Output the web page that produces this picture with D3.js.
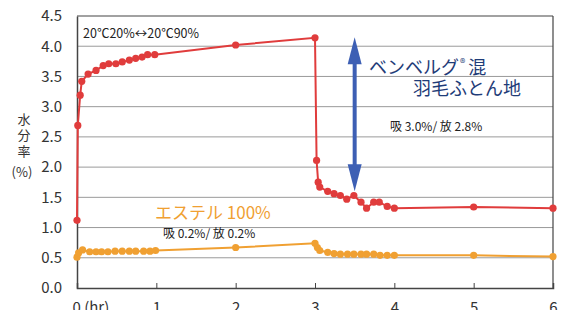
<!DOCTYPE html>
<html lang="ja">
<head>
<meta charset="UTF-8" />
<title>水分率</title>
<script src="https://d3js.org/d3.v7.min.js"></script>
<style>
  body { margin: 0; background: #fff; }
  svg text { font-family: "Noto Sans CJK JP", "Noto Sans", sans-serif; }
</style>
</head>
<body>
<div id="chart"></div>
<script>
// 時間 (hr) と水分率 (%)
const redHours = [0, 0.01, 0.04, 0.06, 0.14, 0.24, 0.33, 0.40, 0.49, 0.57, 0.66, 0.74, 0.82, 0.89, 0.98,
  2, 3, 3.02, 3.04, 3.06, 3.16, 3.24, 3.32, 3.40, 3.49, 3.58, 3.65, 3.74, 3.81, 3.91, 4, 5, 6];
const redValues = [1.12, 2.69, 3.19, 3.42, 3.54, 3.60, 3.68, 3.71, 3.71, 3.74, 3.77, 3.80, 3.82, 3.86, 3.86,
  4.02, 4.14, 2.11, 1.75, 1.67, 1.60, 1.56, 1.53, 1.47, 1.53, 1.42, 1.32, 1.42, 1.42, 1.35, 1.32, 1.34, 1.32];

const orangeHours = [0, 0.02, 0.07, 0.16, 0.24, 0.31, 0.39, 0.48, 0.57, 0.66, 0.74, 0.84, 0.92, 0.99,
  2, 3, 3.03, 3.06, 3.16, 3.24, 3.32, 3.41, 3.49, 3.58, 3.65, 3.74, 3.82, 3.91, 4, 5, 6];
const orangeValues = [0.51, 0.58, 0.63, 0.60, 0.60, 0.60, 0.60, 0.61, 0.61, 0.61, 0.61, 0.61, 0.61, 0.62,
  0.67, 0.74, 0.67, 0.62, 0.59, 0.57, 0.56, 0.56, 0.56, 0.56, 0.56, 0.56, 0.54, 0.54, 0.54, 0.54, 0.52];

const yTicks = [0, 0.5, 1, 1.5, 2, 2.5, 3, 3.5, 4, 4.5];
const xTicks = [0, 1, 2, 3, 4, 5, 6];

const width = 565, height = 310;
const svg = d3.select("#chart").append("svg")
  .attr("width", width).attr("height", height);

const x = d3.scaleLinear().domain([0, 6]).range([77, 553]);
const y = d3.scaleLinear().domain([0, 4.5]).range([288, 16]);

// グリッド
svg.append("g").selectAll("line")
  .data(yTicks.filter(d => d > 0 && d < 4.5))
  .join("line")
  .attr("x1", x(0)).attr("x2", x(6))
  .attr("y1", d => y(d)).attr("y2", d => y(d))
  .attr("stroke", "#9a9a9a").attr("stroke-width", 1);

// 枠
svg.append("line").attr("x1", x(0)).attr("x2", x(6)).attr("y1", y(4.5)).attr("y2", y(4.5))
  .attr("stroke", "#444").attr("stroke-width", 1.2);
svg.append("line").attr("x1", x(6)).attr("x2", x(6)).attr("y1", y(4.5)).attr("y2", y(0))
  .attr("stroke", "#444").attr("stroke-width", 1.2);

// 軸
const yAxis = svg.append("g")
  .attr("transform", `translate(${x(0)},0)`)
  .call(d3.axisLeft(y).tickValues(yTicks).tickFormat(d3.format(".1f")).tickSize(0).tickPadding(15));
yAxis.select(".domain").attr("stroke", "#444").attr("stroke-width", 1.5);
yAxis.selectAll("text").attr("font-size", 15).attr("fill", "#333");

const xAxis = svg.append("g")
  .attr("transform", `translate(0,${y(0)})`)
  .call(d3.axisBottom(x).tickValues(xTicks).tickSize(-5).tickPadding(14)
    .tickFormat(d => d === 0 ? "0  (hr)" : d));
xAxis.select(".domain").attr("stroke", "#444").attr("stroke-width", 1.5);
xAxis.selectAll(".tick line").attr("stroke", "#444");
xAxis.selectAll("text").attr("font-size", 15).attr("fill", "#333");
xAxis.selectAll(".tick").filter(d => d === 0).select("text")
  .attr("text-anchor", "start").attr("x", -5);

// 軸ラベル
const ylab = svg.append("g").attr("fill", "#333").attr("font-size", 13).attr("text-anchor", "middle");
["水", "分", "率"].forEach((c, i) => ylab.append("text").attr("x", 24).attr("y", 124 + i * 16).text(c));
ylab.append("text").attr("x", 22).attr("y", 177).attr("font-size", 13).text("(%)");

// 系列
const series = [
  { hours: redHours, values: redValues, color: "#e03c3c" },
  { hours: orangeHours, values: orangeValues, color: "#f0a032" }
];
const line = d3.line().x(d => x(d[0])).y(d => y(d[1]));
series.forEach(s => {
  const pts = s.hours.map((h, i) => [h, s.values[i]]);
  svg.append("path").datum(pts)
    .attr("fill", "none").attr("stroke", s.color).attr("stroke-width", 2)
    .attr("d", line);
  svg.append("g").selectAll("circle").data(pts).join("circle")
    .attr("cx", d => x(d[0])).attr("cy", d => y(d[1])).attr("r", 3.6)
    .attr("fill", s.color);
});

// 矢印
const ax = x(3.5);
const aTop = y(4.15), aBot = y(1.6);
svg.append("line").attr("x1", ax).attr("x2", ax).attr("y1", aTop + 20).attr("y2", aBot - 20)
  .attr("stroke", "#3d5fb4").attr("stroke-width", 4);
svg.append("path").attr("fill", "#3d5fb4")
  .attr("d", `M${ax},${aTop} L${ax - 7},${aTop + 27} L${ax + 7},${aTop + 27} Z`);
svg.append("path").attr("fill", "#3d5fb4")
  .attr("d", `M${ax},${aBot} L${ax - 7},${aBot - 27} L${ax + 7},${aBot - 27} Z`);

// 注記
svg.append("text").attr("x", 83).attr("y", 38).attr("font-size", 12.5).attr("fill", "#222")
  .text("20℃20%↔20℃90%");

const blue = svg.append("g").attr("fill", "#1f3c78").attr("font-size", 18);
const t1 = blue.append("text").attr("x", 369).attr("y", 74);
t1.append("tspan").text("ベンベルグ");
t1.append("tspan").attr("font-size", 11).attr("dy", -7).attr("dx", 1).text("®");
t1.append("tspan").attr("dy", 7).attr("dx", 3).text("混");
blue.append("text").attr("x", 413).attr("y", 95).text("羽毛ふとん地");

svg.append("text").attr("x", 390).attr("y", 131).attr("font-size", 12).attr("fill", "#222")
  .text("吸 3.0%/ 放 2.8%");

svg.append("text").attr("x", 155).attr("y", 219).attr("font-size", 17).attr("fill", "#f0a032")
  .text("エステル 100%");
svg.append("text").attr("x", 163).attr("y", 238).attr("font-size", 12).attr("fill", "#222")
  .text("吸 0.2%/ 放 0.2%");
</script>
</body>
</html>
